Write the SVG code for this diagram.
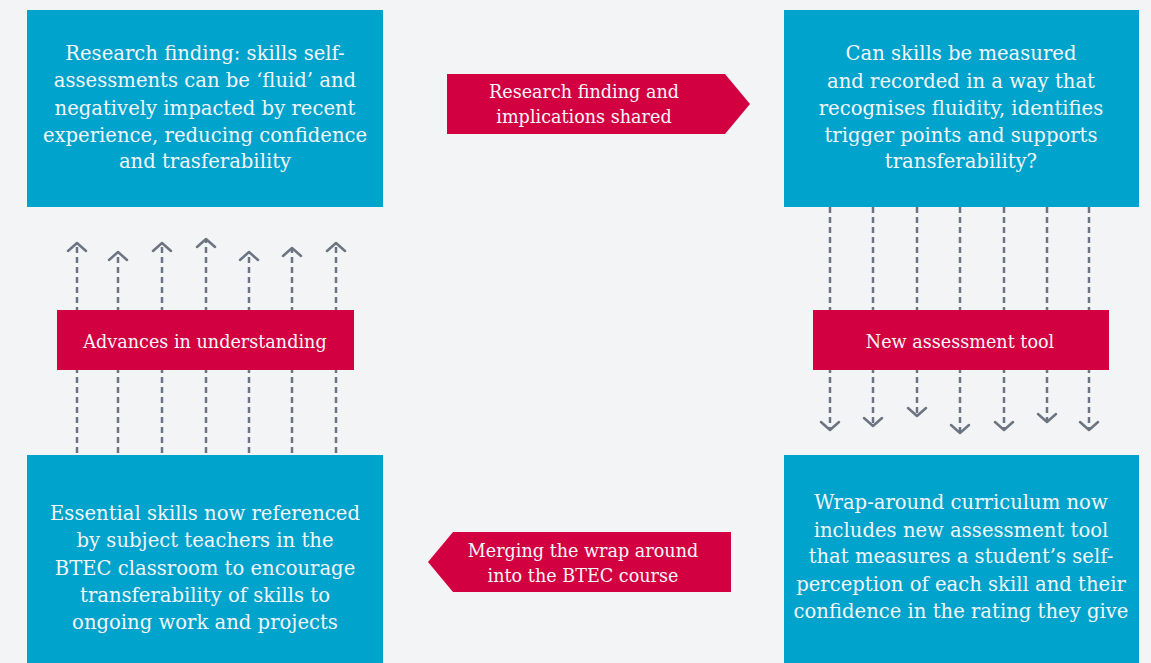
<svg xmlns="http://www.w3.org/2000/svg" width="1151" height="663" viewBox="0 0 1151 663">
<defs>
<style>
.bg{fill:#f3f4f6}
.box{fill:#00a3cb}
.red{fill:#d20040}
.t{font-family:"DejaVu Serif","Liberation Serif",serif;fill:#f2f6fa;text-anchor:middle}
.big{font-size:19.6px}
.sm{font-size:17.6px}
.dash{stroke:#6b7480;stroke-width:2.5;stroke-dasharray:6 4;fill:none}
.head{stroke:#6b7480;stroke-width:2.5;fill:none;stroke-linecap:round;stroke-linejoin:round}
</style>
</defs>
<rect class="bg" x="0" y="0" width="1151" height="663"/>
<g id="connectors">
<path class="dash" d="M77 453V244M118 453V253M162 453V244M206 453V240M249 453V253M292 453V249M336 453V244"/>
<path class="head" d="M68 251L77 243L86 251M109 260L118 252L127 260M153 251L162 243L171 251M197 247L206 239L215 247M240 260L249 252L258 260M283 256L292 248L301 256M327 251L336 243L345 251"/>
<path class="dash" d="M830 207V429M873 207V425M917 207V415M960 207V432M1004 207V429M1047 207V421M1089 207V429"/>
<path class="head" d="M821 422L830 430L839 422M864 418L873 426L882 418M908 408L917 416L926 408M951 425L960 433L969 425M995 422L1004 430L1013 422M1038 414L1047 422L1056 414M1080 422L1089 430L1098 422"/>
</g>
<g id="n1">
<rect class="box" x="27" y="10" width="356" height="197"/>
<text class="t big"><tspan x="205" y="60">Research finding: skills self-</tspan><tspan x="205" y="87">assessments can be ‘fluid’ and</tspan><tspan x="205" y="115">negatively impacted by recent</tspan><tspan x="205" y="142">experience, reducing confidence</tspan><tspan x="205" y="168">and trasferability</tspan></text>
</g>
<g id="n2">
<rect class="box" x="784" y="10" width="355" height="197"/>
<text class="t big"><tspan x="961" y="60">Can skills be measured</tspan><tspan x="961" y="88">and recorded in a way that</tspan><tspan x="961" y="115">recognises fluidity, identifies</tspan><tspan x="961" y="142">trigger points and supports</tspan><tspan x="961" y="168">transferability?</tspan></text>
</g>
<g id="n3">
<rect class="box" x="27" y="455" width="356" height="208"/>
<text class="t big"><tspan x="205" y="520">Essential skills now referenced</tspan><tspan x="205" y="547">by subject teachers in the</tspan><tspan x="205" y="575">BTEC classroom to encourage</tspan><tspan x="205" y="602">transferability of skills to</tspan><tspan x="205" y="629">ongoing work and projects</tspan></text>
</g>
<g id="n4">
<rect class="box" x="784" y="455" width="355" height="208"/>
<text class="t big"><tspan x="961" y="509">Wrap-around curriculum now</tspan><tspan x="961" y="537">includes new assessment tool</tspan><tspan x="961" y="563">that measures a student’s self-</tspan><tspan x="961" y="591">perception of each skill and their</tspan><tspan x="961" y="618">confidence in the rating they give</tspan></text>
</g>
<g id="e1">
<polygon class="red" points="447,74 725,74 750,104 725,134 447,134"/>
<text class="t sm"><tspan x="584" y="98">Research finding and</tspan><tspan x="584" y="123">implications shared</tspan></text>
</g>
<g id="e2">
<polygon class="red" points="731,532 453,532 428,562 453,592 731,592"/>
<text class="t sm"><tspan x="583" y="557">Merging the wrap around</tspan><tspan x="583" y="582">into the BTEC course</tspan></text>
</g>
<g id="e3">
<rect class="red" x="57" y="310" width="297" height="60"/>
<text class="t sm" x="205" y="348">Advances in understanding</text>
</g>
<g id="e4">
<rect class="red" x="813" y="310" width="296" height="60"/>
<text class="t sm" x="960" y="348">New assessment tool</text>
</g>
</svg>
